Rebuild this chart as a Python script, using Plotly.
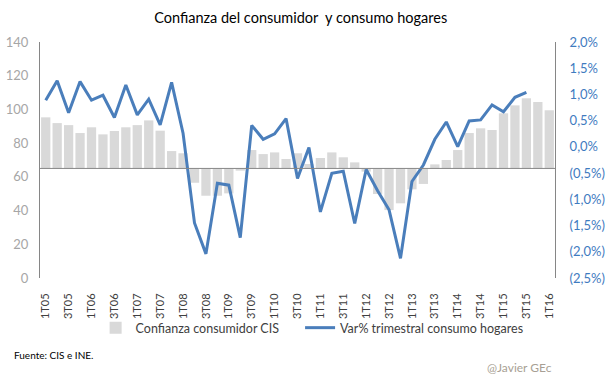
import plotly.graph_objects as go

quarters = [f"{q}T{y:02d}" for y in range(5, 17) for q in (1, 2, 3, 4)][:45]
tick_labels = ["1T05", "3T05", "1T06", "3T06", "1T07", "3T07", "1T08", "3T08", "1T09", "3T09",
               "1T10", "3T10", "1T11", "3T11", "1T12", "3T12", "1T13", "3T13", "1T14", "3T14",
               "1T15", "3T15", "1T16"]

confianza = [95.3, 91.9, 90.7, 86.0, 89.4, 85.2, 87.2, 89.4, 90.7, 93.5, 87.4, 75.3, 74.0,
             56.5, 48.8, 48.8, 50.2, 63.7, 75.9, 73.5, 74.5, 70.6, 74.0, 67.6, 71.2, 74.5,
             71.6, 68.6, 63.1, 49.8, 40.3, 44.3, 52.6, 55.8, 67.4, 70.0, 75.9, 86.0, 88.8,
             87.8, 97.7, 102.4, 106.6, 104.4, 99.5]
consumo = [0.89, 1.26, 0.65, 1.245, 0.89, 0.985, 0.56, 1.18, 0.61, 0.91, 0.42, 1.23, 0.26,
           -1.45, -2.04, -0.695, -0.73, -1.73, 0.41, 0.145, 0.25, 0.54, -0.6, -0.01, -1.24,
           -0.505, -0.465, -1.46, -0.43, -0.835, -1.2, -2.125, -0.66, -0.345, 0.145, 0.475,
           0.005, 0.495, 0.515, 0.8, 0.67, 0.945, 1.04]
baseline = 65
left_ticks = [0, 20, 40, 60, 80, 100, 120, 140]
right_ticks = [-2.5, -2.0, -1.5, -1.0, -0.5, 0.0, 0.5, 1.0, 1.5, 2.0]
right_text = ["(2,5%)", "(2,0%)", "(1,5%)", "(1,0%)", "(0,5%)", "0,0%", "0,5%", "1,0%", "1,5%", "2,0%"]

FONT = "Lato, 'Open Sans', sans-serif"

fig = go.Figure()
fig.add_trace(go.Bar(
    x=quarters, y=[v - baseline for v in confianza], base=baseline,
    name="Confianza consumidor CIS", marker=dict(color="#D9D9D9", line=dict(width=0)),
    yaxis="y", legend="legend",
))
fig.add_trace(go.Scatter(
    x=quarters[:len(consumo)], y=consumo, mode="lines",
    name="Var% trimestral consumo hogares", line=dict(color="#4A7EBB", width=3),
    yaxis="y2", legend="legend2",
))

fig.add_shape(type="line", xref="paper", yref="y", x0=0, x1=1, y0=baseline, y1=baseline,
              line=dict(color="#868686", width=1))

legend_style = dict(orientation="h", xanchor="left", y=-0.212, yanchor="middle",
                    font=dict(size=12.5, color="#404040", family=FONT),
                    bgcolor="rgba(0,0,0,0)", itemwidth=30)

fig.update_layout(
    width=605, height=378,
    margin=dict(l=40, r=50, t=42, b=100, autoexpand=False),
    paper_bgcolor="white", plot_bgcolor="white",
    font=dict(family=FONT),
    title=dict(text="Confianza del consumidor  y consumo hogares", x=0.497, xanchor="center",
               y=0.952, yanchor="middle", font=dict(size=14.5, color="#000000", family=FONT)),
    bargap=0.19,
    showlegend=True,
    legend=dict(x=0.108, **legend_style),
    legend2=dict(x=0.505, **legend_style),
    xaxis=dict(type="category", tickmode="array", tickvals=tick_labels, ticktext=tick_labels,
               tickangle=-90, tickfont=dict(size=11, color="#404040", family=FONT),
               showgrid=False, showline=False, zeroline=False, ticks="outside", ticklen=10,
               tickcolor="rgba(0,0,0,0)", range=[-0.5, 44.5]),
    yaxis=dict(range=[0, 140], tickvals=left_ticks, showgrid=False, zeroline=False,
               showline=True, linecolor="#868686", linewidth=1,
               tickfont=dict(size=13, color="#A6A6A6", family=FONT), ticklabelstandoff=8),
    yaxis2=dict(range=[-2.5, 2.0], overlaying="y", side="right", tickvals=right_ticks,
                ticktext=right_text, showgrid=False, zeroline=False, showline=True,
                linecolor="#868686", linewidth=1,
                tickfont=dict(size=13, color="#3F7BBF", family=FONT), ticklabelstandoff=11),
    annotations=[
        dict(text="Fuente: CIS e INE.", xref="paper", yref="paper", x=-0.055, y=-0.325,
             xanchor="left", yanchor="middle", showarrow=False,
             font=dict(size=10, color="#000000", family=FONT)),
        dict(text="@Javier GEc", xref="paper", yref="paper", x=0.998, y=-0.38,
             xanchor="right", yanchor="middle", showarrow=False,
             font=dict(size=12, color="#A89F94", family=FONT)),
    ],
)

fig.write_html("out.html", config={"displayModeBar": False},
               post_script="document.body.style.margin='0';document.body.style.padding='0';"
                           "document.body.style.overflow='hidden';")
